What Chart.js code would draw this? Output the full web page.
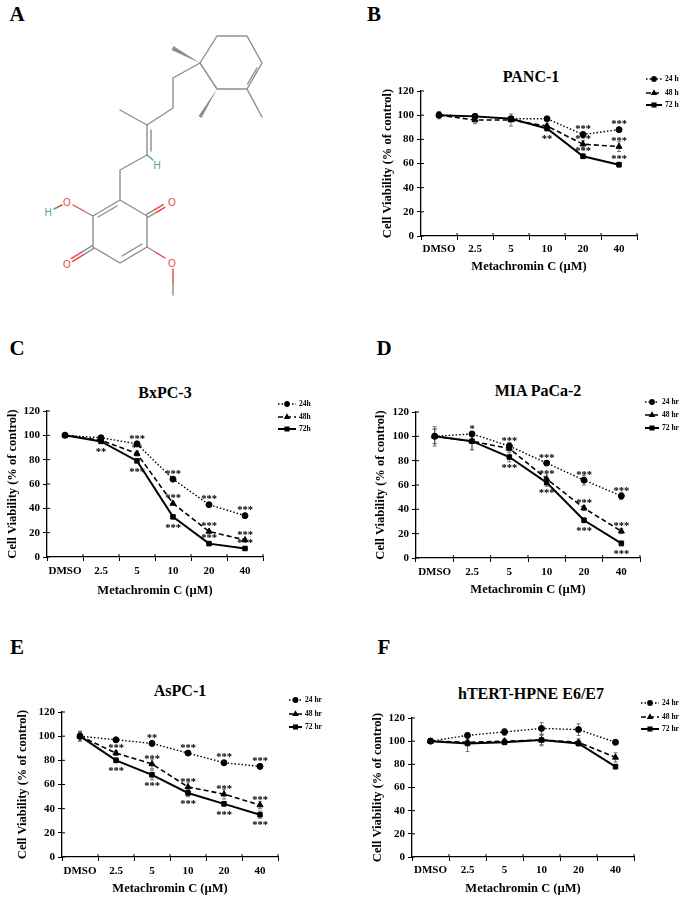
<!DOCTYPE html>
<html>
<head>
<meta charset="utf-8">
<script src="https://cdn.jsdelivr.net/npm/chart.js@4.4.0/dist/chart.umd.min.js"></script>
<style>
html, body { margin: 0; padding: 0; background: #fff; }
#page { position: relative; width: 696px; height: 904px; overflow: hidden; font-family: 'Liberation Serif', 'Times New Roman', serif; }
.lbl { position: absolute; font-weight: bold; color: #000; transform: translate(-50%, -50%); white-space: nowrap; line-height: 1; }
.letter { font-size: 21px; }
.ttl { font-size: 16px; }
canvas { position: absolute; }
</style>
</head>
<body>
<div id="page">
  <!-- panel A: structure -->
  <svg width="348" height="300" viewBox="0 0 348 300" style="position:absolute;left:0;top:0">
    <g stroke="#8e8e8e" stroke-width="1.4" fill="none" stroke-linecap="round" stroke-linejoin="round">
      <polyline points="200,63 217,36 247,36 262,63 247,89 217,89 200,63"/>
      <line x1="257" y1="68" x2="247.5" y2="84"/>
      <line x1="247" y1="89" x2="262" y2="117"/>
      <polyline points="200,63 173,78 173,108 147,125 120,110"/>
      <line x1="147" y1="125" x2="147" y2="155"/>
      <line x1="151" y1="130" x2="151" y2="151"/>
      <polyline points="147,155 120,170 120,200"/>
      <polyline points="120,200 147,216 147,247 120,263 93,247 93,216 120,200"/>
      <line x1="117" y1="206" x2="98" y2="217"/>
      <line x1="142" y1="244" x2="122" y2="256"/>
      <!-- C=O top right -->
      <line x1="146.2" y1="214.6" x2="154.7" y2="209.6"/>
      <line x1="147.8" y1="217.4" x2="156.3" y2="212.4"/>
      <!-- C=O bottom left -->
      <line x1="92.2" y1="245.6" x2="81.7" y2="252.1"/>
      <line x1="93.8" y1="248.4" x2="83.3" y2="254.9"/>
      <!-- C-O -->
      <line x1="93" y1="216" x2="83" y2="210.5"/>
      <line x1="147" y1="247" x2="156" y2="252.5"/>
      <line x1="173" y1="282" x2="173" y2="295"/>
    </g>
    <g stroke="#e8463c" stroke-width="1.4" fill="none" stroke-linecap="round">
      <line x1="154.7" y1="209.6" x2="163.2" y2="204.6"/>
      <line x1="156.3" y1="212.4" x2="164.8" y2="207.4"/>
      <line x1="81.7" y1="252.1" x2="71.2" y2="258.6"/>
      <line x1="83.3" y1="254.9" x2="72.8" y2="261.4"/>
      <line x1="83" y1="210.5" x2="73" y2="205"/>
      <line x1="156" y1="252.5" x2="165" y2="258"/>
      <line x1="173" y1="269" x2="173" y2="282"/>
      <line x1="62" y1="205" x2="58" y2="207"/>
    </g>
    <g stroke="#5a9c9c" stroke-width="1.4" fill="none" stroke-linecap="round">
      <line x1="58" y1="207" x2="54" y2="209"/>
      <line x1="147" y1="155" x2="153" y2="160"/>
    </g>
    <g fill="#8e8e8e" stroke="none">
      <polygon points="217,89 198.5,116 201.5,118"/>
      <polygon points="200,63 173.5,46 171.5,50"/>
    </g>
    <g font-family="'Liberation Sans', Arial, sans-serif" font-size="10" text-anchor="middle" dominant-baseline="central">
      <text x="172" y="202" fill="#e8463c">O</text>
      <text x="172" y="263" fill="#e8463c">O</text>
      <text x="67" y="264" fill="#e8463c">O</text>
      <text x="67" y="202" fill="#e8463c">O</text>
      <text x="48" y="212" fill="#5a9c9c">H</text>
      <text x="157" y="165" fill="#5a9c9c">H</text>
    </g>
  </svg>
  <div class="lbl letter" style="left:17px;top:14px">A</div>
  <div class="lbl letter" style="left:374px;top:14px">B</div>
  <div class="lbl letter" style="left:17px;top:348px">C</div>
  <div class="lbl letter" style="left:384px;top:348px">D</div>
  <div class="lbl letter" style="left:17px;top:647px">E</div>
  <div class="lbl letter" style="left:384px;top:647px">F</div>
</div>
<script>
// ---- data ----
const categories = ['DMSO', '2.5', '5', '10', '20', '40'];
const yTicks = [0, 20, 40, 60, 80, 100, 120];

const legendB = ['24 h', '48 h', '72 h'];
const legendC = ['24h', '48h', '72h'];
const legendHr = ['24 hr', '48 hr', '72 hr'];

// B: PANC-1
const panc1_24 = [100, 99, 97, 97, 84, 88];
const panc1_48 = [100, 96, 96, 91, 76, 74];
const panc1_72 = [100, 99, 97, 89, 66, 59];
const panc1Err_24 = [2, 2, 2, 1, 2, 2];
const panc1Err_48 = [2, 3, 5, 2, 3, 4];
const panc1Err_72 = [3, 2, 2, 2, 2, 2];
const panc1Stars_24 = ['', '', '', '', '***', '***'];
const panc1Stars_48 = ['', '', '', '', '***', '***'];
const panc1Stars_72 = ['', '', '', '**', '***', '***'];
const panc1Side_72 = ['', '', '', 'below', 'above', 'above'];

// C: BxPC-3
const bxpc3_24 = [100, 98, 93, 64, 43, 34];
const bxpc3_48 = [100, 96, 85, 44, 21, 14];
const bxpc3_72 = [100, 95, 79, 33, 11, 7];
const bxpc3Err_24 = [1, 1, 1, 1, 1, 1];
const bxpc3Err_48 = [1, 1, 2, 1, 1, 1];
const bxpc3Err_72 = [1, 1, 1, 1, 1, 1];
const bxpc3Stars_24 = ['', '', '***', '***', '***', '***'];
const bxpc3Stars_48 = ['', '', '**', '***', '***', '***'];
const bxpc3Stars_72 = ['', '**', '***', '***', '***', '***'];
const bxpc3Side_72 = ['', 'below', 'below', 'below', 'above', 'above'];

// D: MIA PaCa-2
const mia_24 = [100, 102, 92, 78, 64, 51];
const mia_48 = [100, 96, 90, 65, 41, 22];
const mia_72 = [100, 96, 83, 62, 31, 12];
const miaErr_24 = [8, 2, 3, 2, 4, 3];
const miaErr_48 = [6, 7, 2, 4, 2, 2];
const miaErr_72 = [6, 7, 4, 3, 2, 2];
const miaStars_24 = ['', '*', '***', '***', '***', '***'];
const miaStars_48 = ['', '', '', '***', '***', '***'];
const miaStars_72 = ['', '', '***', '***', '***', '***'];
const miaSide_72 = ['', '', 'below', 'below', 'below', 'below'];

// E: AsPC-1
const aspc1_24 = [100, 97, 94, 86, 78, 75];
const aspc1_48 = [100, 86, 77, 58, 52, 43];
const aspc1_72 = [100, 80, 68, 53, 44, 35];
const aspc1Err_24 = [3, 2, 2, 2, 2, 2];
const aspc1Err_48 = [4, 2, 4, 4, 4, 3];
const aspc1Err_72 = [4, 2, 4, 3, 2, 3];
const aspc1Stars_24 = ['', '', '**', '***', '***', '***'];
const aspc1Stars_48 = ['', '***', '***', '***', '***', '***'];
const aspc1Stars_72 = ['', '***', '***', '***', '***', '***'];
const aspc1Side_72 = ['', 'below', 'below', 'below', 'below', 'below'];

// F: hTERT-HPNE E6/E7
const hpne_24 = [100, 105, 108, 111, 110, 99];
const hpne_48 = [100, 99, 100, 101, 99, 86];
const hpne_72 = [100, 98, 99, 101, 98, 78];
const hpneErr_24 = [2, 2, 3, 5, 5, 2];
const hpneErr_48 = [2, 2, 2, 4, 3, 4];
const hpneErr_72 = [2, 7, 2, 5, 2, 2];

// ---- styles ----
const FONT = "'Liberation Serif', 'Times New Roman', serif";
const AXIS_TITLE_SIZE = 12.5;
const TICK_SIZE = 11;
const TICK_LEN = 4;
Chart.defaults.font.family = FONT;
Chart.defaults.color = '#000';

const lineStyles = [
    { dash: [1.5, 2], width: 1.4, point: 'circle', radius: 3 },
    { dash: [5, 3], width: 1.6, point: 'triangle', radius: 3.5 },
    { dash: [], width: 2, point: 'rect', radius: 3.2 }
];

function makeDatasets(names, values, errors, stars, sides) {
    return values.map((vals, i) => ({
        label: names[i],
        data: vals,
        errors: errors[i],
        stars: stars ? stars[i] : null,
        sides: sides ? sides[i] : null,
        borderColor: '#000',
        backgroundColor: '#000',
        borderWidth: lineStyles[i].width,
        borderDash: lineStyles[i].dash,
        pointStyle: lineStyles[i].point,
        pointRadius: lineStyles[i].radius,
        pointBorderWidth: 1,
        pointBackgroundColor: '#000',
        pointBorderColor: '#000',
        tension: 0,
        fill: false
    }));
}

// error bars, significance marks, legend and crossing ticks
const extrasPlugin = {
    id: 'extras',
    beforeDatasetsDraw(chart) {
        const { ctx, scales: { x, y } } = chart;
        ctx.save();
        ctx.strokeStyle = '#555';
        ctx.lineWidth = 0.8;
        chart.data.datasets.forEach(ds => {
            (ds.errors || []).forEach((e, i) => {
                if (!e) return;
                const px = x.getPixelForValue(i);
                const y1 = y.getPixelForValue(ds.data[i] + e);
                const y2 = y.getPixelForValue(ds.data[i] - e);
                ctx.beginPath();
                ctx.moveTo(px, y1); ctx.lineTo(px, y2);
                ctx.moveTo(px - 2, y1); ctx.lineTo(px + 2, y1);
                ctx.moveTo(px - 2, y2); ctx.lineTo(px + 2, y2);
                ctx.stroke();
            });
        });
        ctx.restore();
    },
    afterDatasetsDraw(chart, args, opts) {
        const { ctx, chartArea, scales: { x, y } } = chart;
        ctx.save();
        // crossing tick marks
        ctx.strokeStyle = '#000';
        ctx.lineWidth = 1;
        ctx.beginPath();
        yTicks.forEach(v => {
            const py = y.getPixelForValue(v);
            ctx.moveTo(chartArea.left, py); ctx.lineTo(chartArea.left + 3, py);
        });
        const step = (x.right - x.left) / categories.length;
        for (let k = 1; k <= categories.length; k++) {
            const px = x.left + k * step;
            ctx.moveTo(px, chartArea.bottom); ctx.lineTo(px, chartArea.bottom - 3);
        }
        ctx.stroke();

        // significance asterisks
        ctx.fillStyle = '#000';
        ctx.font = 'bold 10.5px ' + FONT;
        ctx.textAlign = 'center';
        ctx.textBaseline = 'middle';
        chart.data.datasets.forEach(ds => {
            if (!ds.stars) return;
            ds.stars.forEach((s, i) => {
                if (!s) return;
                const px = x.getPixelForValue(i);
                const py = y.getPixelForValue(ds.data[i]);
                const below = ds.sides && ds.sides[i] === 'below';
                ctx.fillText(s, px, below ? py + 11 : py - 5);
            });
        });

        // legend
        const lg = opts.legend;
        chart.data.datasets.forEach((ds, i) => {
            const ly = lg.ys[i];
            ctx.strokeStyle = '#000';
            ctx.lineWidth = ds.borderWidth;
            ctx.setLineDash(ds.borderDash);
            ctx.beginPath();
            ctx.moveTo(lg.x, ly); ctx.lineTo(lg.x + lg.len, ly);
            ctx.stroke();
            ctx.setLineDash([]);
            ctx.fillStyle = '#000';
            Chart.helpers.drawPoint(ctx, { pointStyle: ds.pointStyle, radius: 2.2, rotation: 0, borderWidth: 1 }, lg.x + lg.len / 2, ly);
            ctx.font = 'bold 7.5px ' + FONT;
            ctx.textAlign = 'left';
            ctx.textBaseline = 'middle';
            ctx.fillText(ds.label, lg.x + lg.len + 3, ly + 0.5);
        });
        ctx.restore();
    }
};

const panels = [
    { name: 'PANC-1', box: [348, 0, 348, 300], area: [421, 91, 637, 236], yTitleX: 388, xLabelY: 249, xTitleY: 267,
      titlePos: [531, 77], legend: { x: 646, ys: [79, 93, 105], len: 16 },
      datasets: makeDatasets(legendB, [panc1_24, panc1_48, panc1_72], [panc1Err_24, panc1Err_48, panc1Err_72],
          [panc1Stars_24, panc1Stars_48, panc1Stars_72], [null, null, panc1Side_72]) },
    { name: 'BxPC-3', box: [0, 300, 348, 300], area: [47, 411, 263, 557], yTitleX: 13, xLabelY: 571, xTitleY: 591,
      titlePos: [165, 393], legend: { x: 278, ys: [404, 417, 429], len: 18 },
      datasets: makeDatasets(legendC, [bxpc3_24, bxpc3_48, bxpc3_72], [bxpc3Err_24, bxpc3Err_48, bxpc3Err_72],
          [bxpc3Stars_24, bxpc3Stars_48, bxpc3Stars_72], [null, null, bxpc3Side_72]) },
    { name: 'MIA PaCa-2', box: [348, 300, 348, 300], area: [416, 412, 640, 558], yTitleX: 381, xLabelY: 572, xTitleY: 590,
      titlePos: [538, 391], legend: { x: 645, ys: [402, 415, 428], len: 14 },
      datasets: makeDatasets(legendHr, [mia_24, mia_48, mia_72], [miaErr_24, miaErr_48, miaErr_72],
          [miaStars_24, miaStars_48, miaStars_72], [null, null, miaSide_72]) },
    { name: 'AsPC-1', box: [0, 600, 348, 304], area: [62, 712, 278, 857], yTitleX: 23, xLabelY: 871, xTitleY: 889,
      titlePos: [180, 691], legend: { x: 289, ys: [700, 714, 727], len: 13 },
      datasets: makeDatasets(legendHr, [aspc1_24, aspc1_48, aspc1_72], [aspc1Err_24, aspc1Err_48, aspc1Err_72],
          [aspc1Stars_24, aspc1Stars_48, aspc1Stars_72], [null, null, aspc1Side_72]) },
    { name: 'hTERT-HPNE E6/E7', box: [348, 600, 348, 304], area: [412, 718, 634, 857], yTitleX: 378, xLabelY: 870, xTitleY: 889,
      titlePos: [531, 694], legend: { x: 641, ys: [703, 717, 729], len: 18 },
      datasets: makeDatasets(legendHr, [hpne_24, hpne_48, hpne_72], [hpneErr_24, hpneErr_48, hpneErr_72], null, null) }
];

const page = document.getElementById('page');

function makePanel(p) {
    const [bx, by, bw, bh] = p.box;
    const [al, at, ar, ab] = p.area;
    const lh = AXIS_TITLE_SIZE * 1.2;
    const padLeft = p.yTitleX - bx - lh / 2;
    const yW = al - bx - padLeft;
    const xH = p.xTitleY + lh / 2 - ab;
    const padBottom = by + bh - (p.xTitleY + lh / 2);
    const tickPad = p.xLabelY - ab - TICK_LEN - TICK_SIZE * 1.2 / 2;

    const title = document.createElement('div');
    title.className = 'lbl ttl';
    title.style.left = p.titlePos[0] + 'px';
    title.style.top = p.titlePos[1] + 'px';
    title.textContent = p.name;
    page.appendChild(title);

    const canvas = document.createElement('canvas');
    canvas.width = bw; canvas.height = bh;
    canvas.style.left = bx + 'px'; canvas.style.top = by + 'px';
    canvas.style.width = bw + 'px'; canvas.style.height = bh + 'px';
    page.appendChild(canvas);

    new Chart(canvas.getContext('2d'), {
        type: 'line',
        data: { labels: categories, datasets: p.datasets },
        options: {
            responsive: false,
            animation: false,
            layout: { padding: { left: padLeft, top: at - by, right: bx + bw - ar, bottom: padBottom } },
            scales: {
                x: {
                    type: 'category',
                    offset: true,
                    afterFit: s => { s.height = xH; },
                    grid: { display: true, offset: true, drawOnChartArea: false, drawTicks: true, tickLength: TICK_LEN, color: '#000', lineWidth: 1 },
                    border: { display: true, color: '#000', width: 1.3 },
                    ticks: { font: { size: TICK_SIZE, weight: 'bold' }, color: '#000', padding: tickPad, maxRotation: 0, autoSkip: false },
                    title: { display: true, text: 'Metachromin C (µM)', font: { size: AXIS_TITLE_SIZE, weight: 'bold' }, color: '#000', padding: 0 }
                },
                y: {
                    min: 0,
                    max: 120,
                    afterFit: s => { s.width = yW; },
                    afterBuildTicks: s => { s.ticks = yTicks.map(v => ({ value: v })); },
                    grid: { display: true, drawOnChartArea: false, drawTicks: true, tickLength: TICK_LEN, color: '#000', lineWidth: 1 },
                    border: { display: true, color: '#000', width: 1.3 },
                    ticks: { font: { size: TICK_SIZE, weight: 'bold' }, color: '#000', padding: 3 },
                    title: { display: true, text: 'Cell Viability (% of control)', font: { size: AXIS_TITLE_SIZE, weight: 'bold' }, color: '#000', padding: 0 }
                }
            },
            plugins: {
                legend: { display: false },
                tooltip: { enabled: false },
                extras: { legend: { x: p.legend.x - bx, ys: p.legend.ys.map(v => v - by), len: p.legend.len } }
            }
        },
        plugins: [extrasPlugin]
    });
}

panels.forEach(makePanel);
</script>
</body>
</html>
